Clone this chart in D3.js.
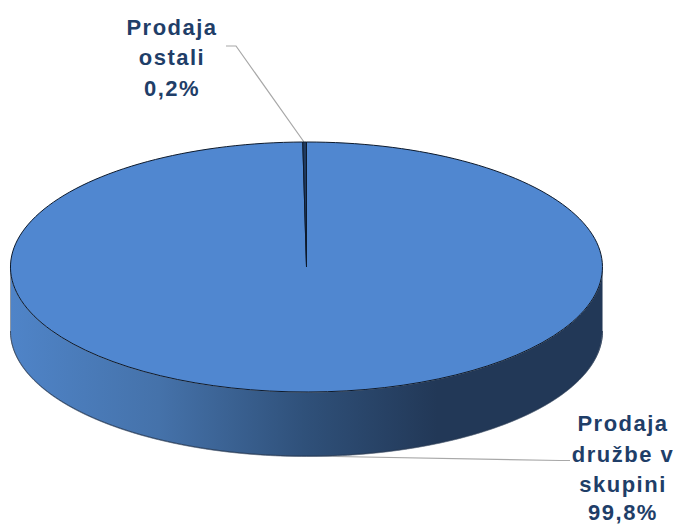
<!DOCTYPE html>
<html>
<head>
<meta charset="utf-8">
<style>
  html, body { margin: 0; padding: 0; background: #fff; }
  text { font-family: "Liberation Sans", Arial, sans-serif; font-weight: bold; font-size: 22px; fill: #1f3e68; letter-spacing: 1.5px; text-anchor: middle; }
</style>
<script src="https://cdn.jsdelivr.net/npm/d3@7/dist/d3.min.js"></script>
</head>
<body>
<svg id="chart" width="676" height="525"></svg>
<script>
var categories = ["Prodaja družbe v skupini", "Prodaja ostali"];
var shares = [99.8, 0.2];
var shareLabels = ["99,8%", "0,2%"];
var labelLines = [["Prodaja", "družbe v", "skupini"], ["Prodaja", "ostali"]];
var sliceColors = ["#5087d0", "#1f3a60"];

var width = 676, height = 525;
var cx = 306.5, cy = 267, rx = 296, ry = 125, depth = 64.5;

var svg = d3.select("#chart").attr("width", width).attr("height", height);

// side wall gradient, light on the left and dark on the right
var grad = svg.append("defs").append("linearGradient")
    .attr("id", "wall")
    .attr("gradientUnits", "userSpaceOnUse")
    .attr("x1", cx - rx).attr("x2", cx + rx).attr("y1", 0).attr("y2", 0);
grad.append("stop").attr("offset", "0%").attr("stop-color", "#4f84c8");
grad.append("stop").attr("offset", "25%").attr("stop-color", "#4572aa");
grad.append("stop").attr("offset", "50%").attr("stop-color", "#2f5079");
grad.append("stop").attr("offset", "72%").attr("stop-color", "#223857");
grad.append("stop").attr("offset", "100%").attr("stop-color", "#223857");

// leader lines go under the pie
var leader = d3.line();
var leaders = [
  [[308, 456], [560, 460.5], [570, 460.5]],
  [[226, 46], [236, 46], [304, 142]]
];
svg.selectAll("path.leader")
  .data(leaders)
  .enter().append("path")
    .attr("class", "leader")
    .attr("d", leader)
    .attr("fill", "none")
    .attr("stroke", "#a8a8a8")
    .attr("stroke-width", 1.2);

// wall: front half of the ellipse pushed down by depth
var wallAngles = d3.range(0, 181).map(function(d) { return d * Math.PI / 180; });
var wallArea = d3.area()
    .x(function(t) { return cx + rx * Math.cos(t); })
    .y0(function(t) { return cy + ry * Math.sin(t) + depth; })
    .y1(function(t) { return cy + ry * Math.sin(t); });

// soft grey rim round the wall, the same outline slightly wider
svg.append("path")
    .datum(wallAngles)
    .attr("d", wallArea)
    .attr("fill", "url(#wall)")
    .attr("stroke", "#8c97a6")
    .attr("stroke-width", 1);

var wallEdge = d3.line()
    .x(function(t) { return cx + rx * Math.cos(t); })
    .y(function(t) { return cy + ry * Math.sin(t) + depth - 0.5; });

svg.append("path")
    .datum(wallAngles)
    .attr("d", wallEdge)
    .attr("fill", "none")
    .attr("stroke", "#1d2f4a")
    .attr("stroke-opacity", 0.7)
    .attr("stroke-width", 1);

// top face: a flat pie squashed into an ellipse
var pie = d3.pie().sort(null);
var arc = d3.arc().innerRadius(0).outerRadius(rx);

var top_face = svg.append("g")
    .attr("transform", "translate(" + cx + "," + cy + ") scale(1," + (ry / rx) + ")");

top_face.selectAll("path")
  .data(pie(shares))
  .enter().append("path")
    .attr("d", arc)
    .attr("fill", function(d, i) { return sliceColors[i]; })
    .attr("stroke", "#0d1a2c")
    .attr("stroke-width", 1)
    .attr("vector-effect", "non-scaling-stroke");

// labels
var labelPos = [
  { x: 623, lines: [431, 462, 492, 520] },
  { x: 172, lines: [35, 65, 96] }
];

categories.forEach(function(c, i) {
  var lines = labelLines[i].concat([shareLabels[i]]);
  svg.selectAll("text.label" + i)
    .data(lines)
    .enter().append("text")
      .attr("class", "label" + i)
      .attr("x", labelPos[i].x)
      .attr("y", function(d, j) { return labelPos[i].lines[j]; })
      .text(function(d) { return d; });
});
</script>
</body>
</html>
